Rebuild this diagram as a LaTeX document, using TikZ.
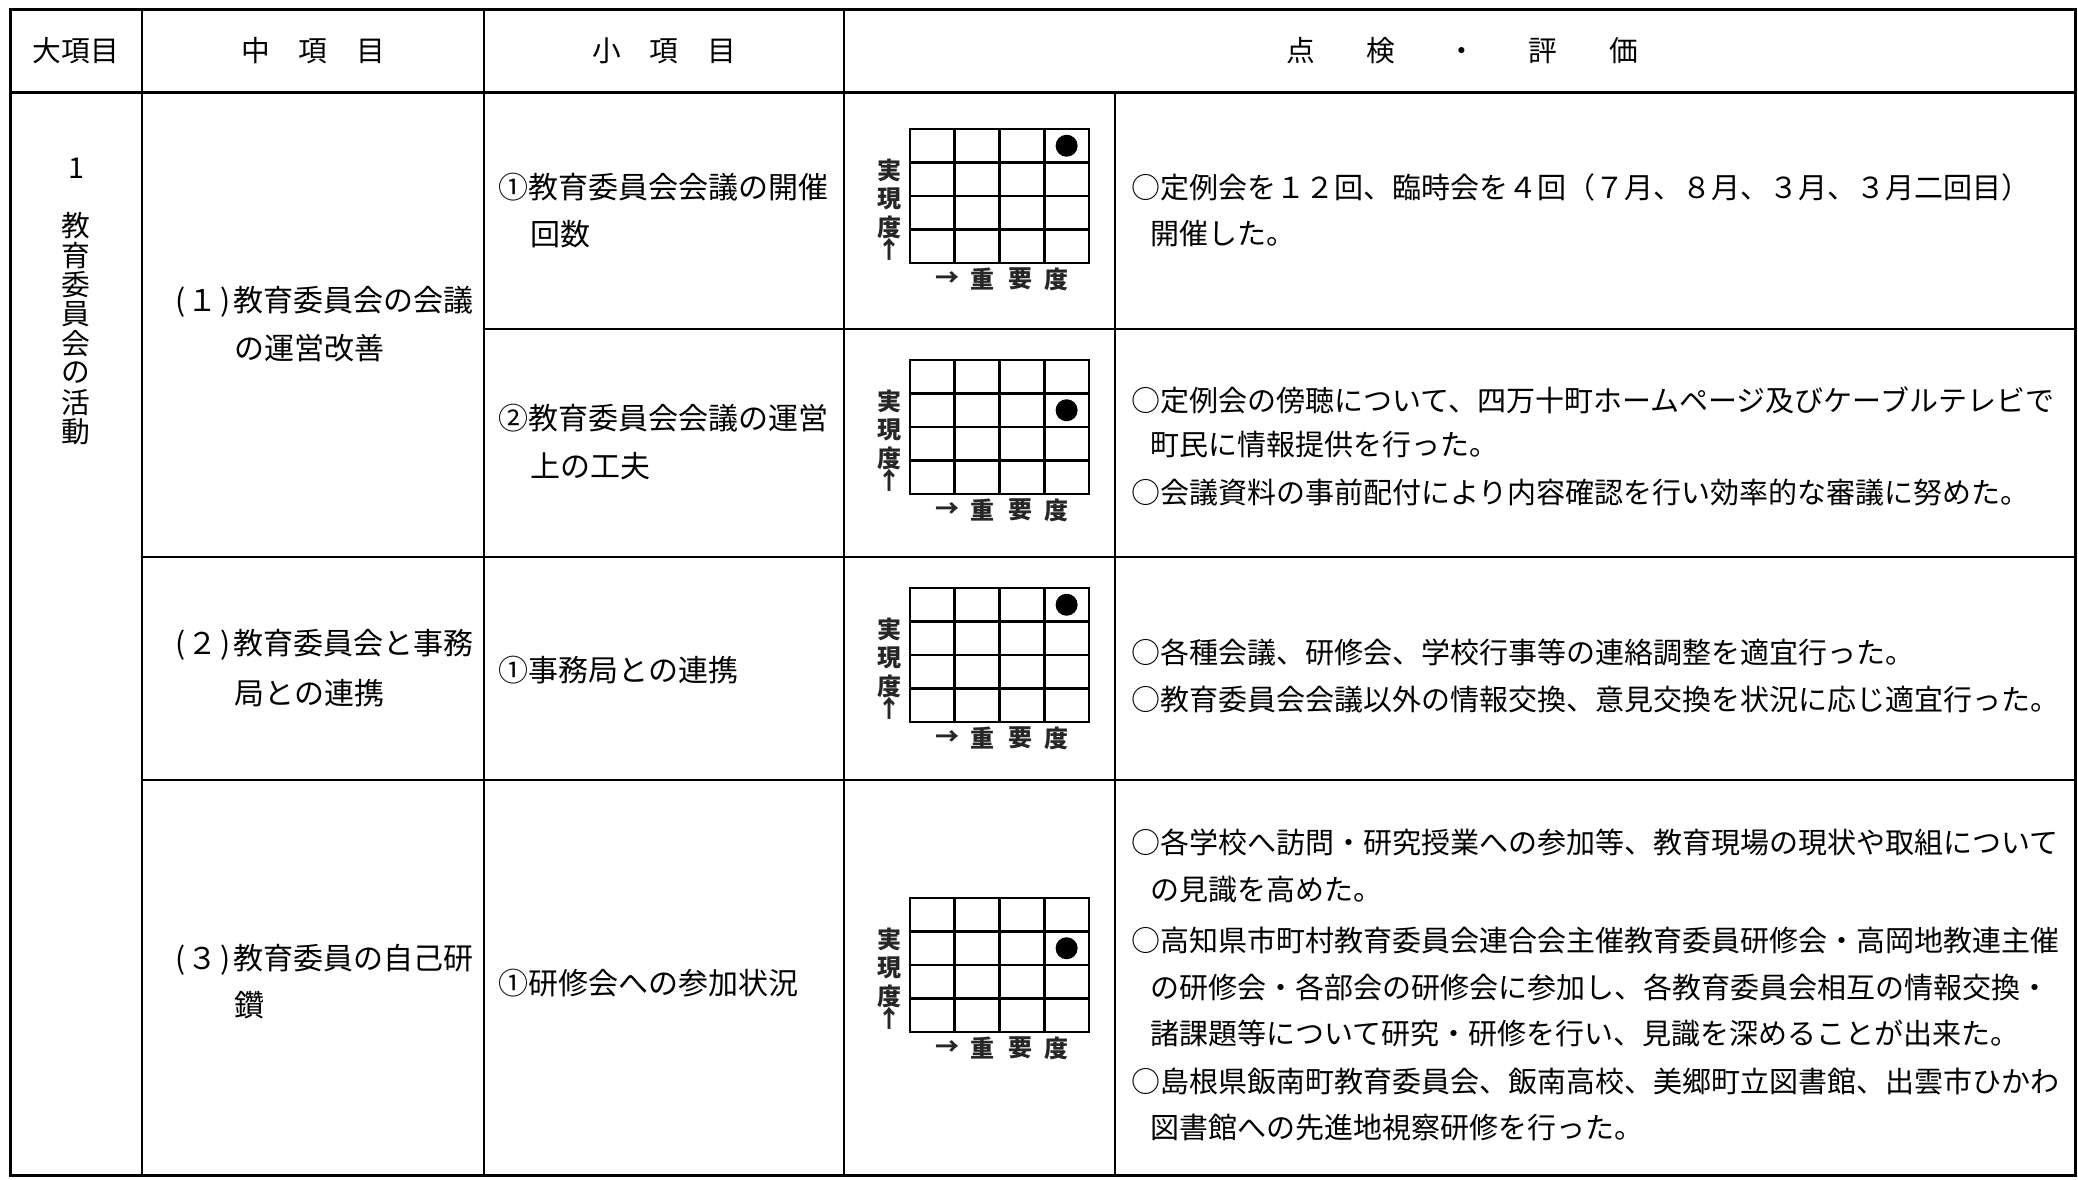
\documentclass[tikz,border=0pt]{standalone}
\usepackage{fontspec}
\newfontfamily\jp{Noto Sans CJK JP}
\tikzset{
 txt/.style={font=\jp\fontsize{11.6}{13}\selectfont, inner sep=0pt, anchor=west},
 txtb/.style={font=\jp\fontsize{12}{13}\selectfont, inner sep=0pt, anchor=west},
 hdr/.style={font=\jp\fontsize{11.5}{13}\selectfont, inner sep=0pt},
 lbl/.style={font=\jp\bfseries\fontsize{9.6}{10}\selectfont, inner sep=0pt, text=black!85},
 outerline/.style={line width=1.2pt},
 innerline/.style={line width=0.7pt},
 rowline/.style={line width=0.9pt},
 gridline/.style={line width=1.1pt},
}
\newcommand\pnum[1]{\makebox[6.2pt][c]{(}#1\makebox[6.2pt][c]{)}}
\newcommand\evalgrid[3]{%
  \draw[gridline] (910,#2) rectangle (1089,#2+134);
  \foreach \i in {1,2,3} {
    \draw[gridline] ({910+44.75*\i},#2) -- ({910+44.75*\i},#2+134);
    \draw[gridline] (910,{#2+33.5*\i}) -- (1089,{#2+33.5*\i});
  }
  \fill (1066.6,{#2+33.5*#3-16.75}) circle[radius=4.4pt];
  \node[lbl] (#1-v1) at (889,#2+41) {実};
  \node[lbl] (#1-v2) at (889,#2+70) {現};
  \node[lbl] (#1-v3) at (889,#2+98) {度};
  \node[lbl] (#1-v4) at (889,#2+120) {↑};
  \node[lbl] (#1-h1) at (947,#2+150) {→};
  \node[lbl] (#1-h2) at (982,#2+150) {重};
  \node[lbl] (#1-h3) at (1020,#2+150) {要};
  \node[lbl] (#1-h4) at (1056,#2+150) {度};
}
\begin{document}
\begin{tikzpicture}[x=0.4pt,y=-0.4pt]
\fill[white] (0,0) rectangle (2078,1179);
\useasboundingbox (0,0) rectangle (2078,1179);
% table frame
\draw[outerline] (10,10) rectangle (2075,1175);
\draw[outerline] (10,93) -- (2075,93);
\foreach \x in {142,484,844} \draw[innerline] (\x,10) -- (\x,1175);
\draw[innerline] (1115,93) -- (1115,1175);
\draw[rowline] (484,329) -- (2075,329);
\draw[rowline] (142,557) -- (2075,557);
\draw[rowline] (142,780) -- (2075,780);
% header
\node[hdr] (h1) at (76,51) {大項目};
\node[hdr] (h2) at (313,51) {中　項　目};
\node[hdr] (h3) at (664,51) {小　項　目};
\node[hdr] (h4) at (1462,51) {点\hspace{20.8pt}検\hspace{20.8pt}・\hspace{20.8pt}評\hspace{20.8pt}価};
% column 1
\node[hdr] (c1n) at (76,168) {1};
\foreach \c [count=\i from 0] in {教,育,委,員,会,の,活,動}
  \node[hdr] (c1v\i) at (76,{226+29.4*\i}) {\c};
% column 2
\node[txtb] (m1a) at (172,302) {\pnum{１}教育委員会の会議};
\node[txtb] (m1b) at (234,348) {の運営改善};
\node[txtb] (m2a) at (172,645) {\pnum{２}教育委員会と事務};
\node[txtb] (m2b) at (234,693) {局との連携};
\node[txtb] (m3a) at (172,960) {\pnum{３}教育委員の自己研};
\node[txtb] (m3b) at (234,1005) {鑽};
% column 3
\node[txtb] (s1a) at (498,187) {①教育委員会会議の開催};
\node[txtb] (s1b) at (530,234) {回数};
\node[txtb] (s2a) at (498,418) {②教育委員会会議の運営};
\node[txtb] (s2b) at (530,466) {上の工夫};
\node[txtb] (s3a) at (498,670) {①事務局との連携};
\node[txtb] (s4a) at (498,983) {①研修会への参加状況};
% grids
\evalgrid{g1}{129}{1}
\evalgrid{g2}{360}{2}
\evalgrid{g3}{588}{1}
\evalgrid{g4}{898}{2}
% evaluation text
\node[txt] (e1a) at (1131,187) {○定例会を１２回、臨時会を４回（７月、８月、３月、３月二回目）};
\node[txt] (e1b) at (1150,234) {開催した。};
\node[txt] (e2a) at (1131,400) {○定例会の傍聴について、四万十町ホームページ及びケーブルテレビで};
\node[txt] (e2b) at (1150,445) {町民に情報提供を行った。};
\node[txt] (e2c) at (1131,493) {○会議資料の事前配付により内容確認を行い効率的な審議に努めた。};
\node[txt] (e3a) at (1131,652) {○各種会議、研修会、学校行事等の連絡調整を適宜行った。};
\node[txt] (e3b) at (1131,700) {○教育委員会会議以外の情報交換、意見交換を状況に応じ適宜行った。};
\node[txt] (e4a) at (1131,842) {○各学校へ訪問・研究授業への参加等、教育現場の現状や取組について};
\node[txt] (e4b) at (1150,890) {の見識を高めた。};
\node[txt] (e4c) at (1131,940) {○高知県市町村教育委員会連合会主催教育委員研修会・高岡地教連主催};
\node[txt] (e4d) at (1150,987) {の研修会・各部会の研修会に参加し、各教育委員会相互の情報交換・};
\node[txt] (e4e) at (1150,1033) {諸課題等について研究・研修を行い、見識を深めることが出来た。};
\node[txt] (e4f) at (1131,1082) {○島根県飯南町教育委員会、飯南高校、美郷町立図書館、出雲市ひかわ};
\node[txt] (e4g) at (1150,1128) {図書館への先進地視察研修を行った。};
\end{tikzpicture}
\end{document}
